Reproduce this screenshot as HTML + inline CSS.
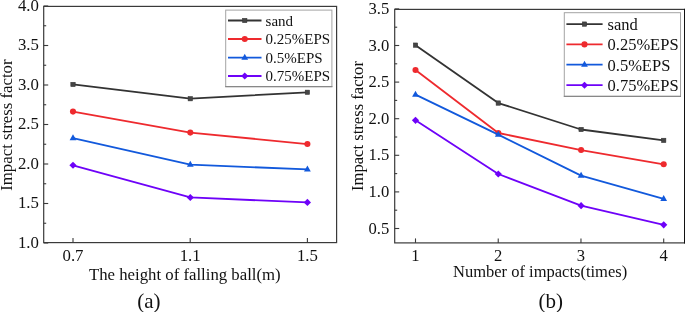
<!DOCTYPE html>
<html><head><meta charset="utf-8"><style>
html,body{margin:0;padding:0;background:#fff;}
svg{display:block;will-change:transform;}
text{font-family:"Liberation Serif",serif;fill:#111;}
</style></head><body>
<svg width="685" height="312" viewBox="0 0 685 312">
<rect width="685" height="312" fill="#fff"/>
<polyline points="73.00,84.45 190.30,98.70 307.40,92.30" fill="none" stroke="#333333" stroke-width="1.8" stroke-linejoin="round"/>
<rect x="70.80" y="82.25" width="4.40" height="4.40" fill="#454545" stroke="#333333" stroke-width="0.5"/>
<rect x="188.10" y="96.50" width="4.40" height="4.40" fill="#454545" stroke="#333333" stroke-width="0.5"/>
<rect x="305.20" y="90.10" width="4.40" height="4.40" fill="#454545" stroke="#333333" stroke-width="0.5"/>
<polyline points="73.00,111.60 190.30,132.60 307.40,144.05" fill="none" stroke="#ee2a2e" stroke-width="1.8" stroke-linejoin="round"/>
<circle cx="73.00" cy="111.60"  r="3.05" fill="#ee2a2e"/>
<circle cx="190.30" cy="132.60"  r="3.05" fill="#ee2a2e"/>
<circle cx="307.40" cy="144.05"  r="3.05" fill="#ee2a2e"/>
<polyline points="73.00,138.20 190.30,164.70 307.40,169.40" fill="none" stroke="#1259dc" stroke-width="1.8" stroke-linejoin="round"/>
<path d="M73.00,134.30 L76.40,140.30 L69.60,140.30Z" fill="#1259dc"/>
<path d="M190.30,160.80 L193.70,166.80 L186.90,166.80Z" fill="#1259dc"/>
<path d="M307.40,165.50 L310.80,171.50 L304.00,171.50Z" fill="#1259dc"/>
<polyline points="73.00,165.30 190.30,197.45 307.40,202.40" fill="none" stroke="#6e02f8" stroke-width="1.8" stroke-linejoin="round"/>
<path d="M73.00,161.75 L76.60,165.30 L73.00,168.85 L69.40,165.30Z" fill="#6e02f8"/>
<path d="M190.30,193.90 L193.90,197.45 L190.30,201.00 L186.70,197.45Z" fill="#6e02f8"/>
<path d="M307.40,198.85 L311.00,202.40 L307.40,205.95 L303.80,202.40Z" fill="#6e02f8"/>
<rect x="43.7" y="6.4" width="292.90" height="236.20" fill="none" stroke="#3a3a3a" stroke-width="1.2"/>
<line x1="43.7" y1="243.00" x2="48.2" y2="243.00" stroke="#3a3a3a" stroke-width="1.1"/>
<text x="38.90" y="247.60" text-anchor="end" font-size="16.8">1.0</text>
<line x1="43.7" y1="223.25" x2="46.2" y2="223.25" stroke="#3a3a3a" stroke-width="1.1"/>
<line x1="43.7" y1="203.50" x2="48.2" y2="203.50" stroke="#3a3a3a" stroke-width="1.1"/>
<text x="38.90" y="208.10" text-anchor="end" font-size="16.8">1.5</text>
<line x1="43.7" y1="183.75" x2="46.2" y2="183.75" stroke="#3a3a3a" stroke-width="1.1"/>
<line x1="43.7" y1="164.00" x2="48.2" y2="164.00" stroke="#3a3a3a" stroke-width="1.1"/>
<text x="38.90" y="168.60" text-anchor="end" font-size="16.8">2.0</text>
<line x1="43.7" y1="144.25" x2="46.2" y2="144.25" stroke="#3a3a3a" stroke-width="1.1"/>
<line x1="43.7" y1="124.50" x2="48.2" y2="124.50" stroke="#3a3a3a" stroke-width="1.1"/>
<text x="38.90" y="129.10" text-anchor="end" font-size="16.8">2.5</text>
<line x1="43.7" y1="104.75" x2="46.2" y2="104.75" stroke="#3a3a3a" stroke-width="1.1"/>
<line x1="43.7" y1="85.00" x2="48.2" y2="85.00" stroke="#3a3a3a" stroke-width="1.1"/>
<text x="38.90" y="89.60" text-anchor="end" font-size="16.8">3.0</text>
<line x1="43.7" y1="65.25" x2="46.2" y2="65.25" stroke="#3a3a3a" stroke-width="1.1"/>
<line x1="43.7" y1="45.50" x2="48.2" y2="45.50" stroke="#3a3a3a" stroke-width="1.1"/>
<text x="38.90" y="50.10" text-anchor="end" font-size="16.8">3.5</text>
<line x1="43.7" y1="25.75" x2="46.2" y2="25.75" stroke="#3a3a3a" stroke-width="1.1"/>
<line x1="43.7" y1="6.00" x2="48.2" y2="6.00" stroke="#3a3a3a" stroke-width="1.1"/>
<text x="38.90" y="10.60" text-anchor="end" font-size="16.8">4.0</text>
<line x1="73.00" y1="242.6" x2="73.00" y2="238.1" stroke="#3a3a3a" stroke-width="1.1"/>
<text x="73.00" y="261.00" text-anchor="middle" font-size="16.8">0.7</text>
<line x1="190.20" y1="242.6" x2="190.20" y2="238.1" stroke="#3a3a3a" stroke-width="1.1"/>
<text x="190.20" y="261.00" text-anchor="middle" font-size="16.8">1.1</text>
<line x1="307.40" y1="242.6" x2="307.40" y2="238.1" stroke="#3a3a3a" stroke-width="1.1"/>
<text x="307.40" y="261.00" text-anchor="middle" font-size="16.8">1.5</text>
<rect x="225.7" y="10.1" width="106.2" height="76.5" fill="#fff" stroke="#a4a4a4" stroke-width="1"/>
<line x1="225.2" y1="86.6" x2="332.4" y2="86.6" stroke="#888" stroke-width="1.1"/>
<line x1="228" y1="20.5" x2="261.5" y2="20.5" stroke="#333333" stroke-width="1.8"/>
<rect x="242.55" y="18.30" width="4.40" height="4.40" fill="#454545" stroke="#333333" stroke-width="0.5"/>
<text x="265.6" y="25.80" font-size="15">sand</text>
<line x1="228" y1="39" x2="261.5" y2="39" stroke="#ee2a2e" stroke-width="1.8"/>
<circle cx="244.75" cy="39.00"  r="3.05" fill="#ee2a2e"/>
<text x="265.6" y="44.30" font-size="15">0.25%EPS</text>
<line x1="228" y1="57.6" x2="261.5" y2="57.6" stroke="#1259dc" stroke-width="1.8"/>
<path d="M244.75,53.70 L248.15,59.70 L241.35,59.70Z" fill="#1259dc"/>
<text x="265.6" y="62.90" font-size="15">0.5%EPS</text>
<line x1="228" y1="76.0" x2="261.5" y2="76.0" stroke="#6e02f8" stroke-width="1.8"/>
<path d="M244.75,72.45 L248.35,76.00 L244.75,79.55 L241.15,76.00Z" fill="#6e02f8"/>
<text x="265.6" y="81.30" font-size="15">0.75%EPS</text>
<polyline points="415.50,45.15 498.30,103.05 581.10,129.50 663.70,140.40" fill="none" stroke="#333333" stroke-width="1.8" stroke-linejoin="round"/>
<rect x="413.30" y="42.95" width="4.40" height="4.40" fill="#454545" stroke="#333333" stroke-width="0.5"/>
<rect x="496.10" y="100.85" width="4.40" height="4.40" fill="#454545" stroke="#333333" stroke-width="0.5"/>
<rect x="578.90" y="127.30" width="4.40" height="4.40" fill="#454545" stroke="#333333" stroke-width="0.5"/>
<rect x="661.50" y="138.20" width="4.40" height="4.40" fill="#454545" stroke="#333333" stroke-width="0.5"/>
<polyline points="415.50,70.00 498.30,133.00 581.10,150.05 663.70,164.30" fill="none" stroke="#ee2a2e" stroke-width="1.8" stroke-linejoin="round"/>
<circle cx="415.50" cy="70.00"  r="3.05" fill="#ee2a2e"/>
<circle cx="498.30" cy="133.00"  r="3.05" fill="#ee2a2e"/>
<circle cx="581.10" cy="150.05"  r="3.05" fill="#ee2a2e"/>
<circle cx="663.70" cy="164.30"  r="3.05" fill="#ee2a2e"/>
<polyline points="415.50,94.60 498.30,134.65 581.10,175.65 663.70,198.85" fill="none" stroke="#1259dc" stroke-width="1.8" stroke-linejoin="round"/>
<path d="M415.50,90.70 L418.90,96.70 L412.10,96.70Z" fill="#1259dc"/>
<path d="M498.30,130.75 L501.70,136.75 L494.90,136.75Z" fill="#1259dc"/>
<path d="M581.10,171.75 L584.50,177.75 L577.70,177.75Z" fill="#1259dc"/>
<path d="M663.70,194.95 L667.10,200.95 L660.30,200.95Z" fill="#1259dc"/>
<polyline points="415.50,120.35 498.30,174.00 581.10,205.65 663.70,224.85" fill="none" stroke="#6e02f8" stroke-width="1.8" stroke-linejoin="round"/>
<path d="M415.50,116.80 L419.10,120.35 L415.50,123.90 L411.90,120.35Z" fill="#6e02f8"/>
<path d="M498.30,170.45 L501.90,174.00 L498.30,177.55 L494.70,174.00Z" fill="#6e02f8"/>
<path d="M581.10,202.10 L584.70,205.65 L581.10,209.20 L577.50,205.65Z" fill="#6e02f8"/>
<path d="M663.70,221.30 L667.30,224.85 L663.70,228.40 L660.10,224.85Z" fill="#6e02f8"/>
<rect x="394.7" y="9.4" width="289.90" height="233.50" fill="none" stroke="#3a3a3a" stroke-width="1.2"/>
<line x1="394.7" y1="228.50" x2="399.2" y2="228.50" stroke="#3a3a3a" stroke-width="1.1"/>
<text x="389.20" y="233.50" text-anchor="end" font-size="16.6">0.5</text>
<line x1="394.7" y1="210.20" x2="397.2" y2="210.20" stroke="#3a3a3a" stroke-width="1.1"/>
<line x1="394.7" y1="191.90" x2="399.2" y2="191.90" stroke="#3a3a3a" stroke-width="1.1"/>
<text x="389.20" y="196.90" text-anchor="end" font-size="16.6">1.0</text>
<line x1="394.7" y1="173.60" x2="397.2" y2="173.60" stroke="#3a3a3a" stroke-width="1.1"/>
<line x1="394.7" y1="155.30" x2="399.2" y2="155.30" stroke="#3a3a3a" stroke-width="1.1"/>
<text x="389.20" y="160.30" text-anchor="end" font-size="16.6">1.5</text>
<line x1="394.7" y1="137.00" x2="397.2" y2="137.00" stroke="#3a3a3a" stroke-width="1.1"/>
<line x1="394.7" y1="118.70" x2="399.2" y2="118.70" stroke="#3a3a3a" stroke-width="1.1"/>
<text x="389.20" y="123.70" text-anchor="end" font-size="16.6">2.0</text>
<line x1="394.7" y1="100.40" x2="397.2" y2="100.40" stroke="#3a3a3a" stroke-width="1.1"/>
<line x1="394.7" y1="82.10" x2="399.2" y2="82.10" stroke="#3a3a3a" stroke-width="1.1"/>
<text x="389.20" y="87.10" text-anchor="end" font-size="16.6">2.5</text>
<line x1="394.7" y1="63.80" x2="397.2" y2="63.80" stroke="#3a3a3a" stroke-width="1.1"/>
<line x1="394.7" y1="45.50" x2="399.2" y2="45.50" stroke="#3a3a3a" stroke-width="1.1"/>
<text x="389.20" y="50.50" text-anchor="end" font-size="16.6">3.0</text>
<line x1="394.7" y1="27.20" x2="397.2" y2="27.20" stroke="#3a3a3a" stroke-width="1.1"/>
<line x1="394.7" y1="8.90" x2="399.2" y2="8.90" stroke="#3a3a3a" stroke-width="1.1"/>
<text x="389.20" y="13.90" text-anchor="end" font-size="16.6">3.5</text>
<line x1="415.50" y1="242.9" x2="415.50" y2="238.4" stroke="#3a3a3a" stroke-width="1.1"/>
<text x="415.50" y="260.60" text-anchor="middle" font-size="16.6">1</text>
<line x1="498.23" y1="242.9" x2="498.23" y2="238.4" stroke="#3a3a3a" stroke-width="1.1"/>
<text x="498.23" y="260.60" text-anchor="middle" font-size="16.6">2</text>
<line x1="580.97" y1="242.9" x2="580.97" y2="238.4" stroke="#3a3a3a" stroke-width="1.1"/>
<text x="580.97" y="260.60" text-anchor="middle" font-size="16.6">3</text>
<line x1="663.70" y1="242.9" x2="663.70" y2="238.4" stroke="#3a3a3a" stroke-width="1.1"/>
<text x="663.70" y="260.60" text-anchor="middle" font-size="16.6">4</text>
<line x1="684.5" y1="8.8" x2="684.5" y2="243.5" stroke="#111" stroke-width="1"/>
<rect x="564.3" y="12.7" width="116.2" height="83.7" fill="#fff" stroke="#a4a4a4" stroke-width="1"/>
<line x1="563.8" y1="96.4" x2="681.0" y2="96.4" stroke="#888" stroke-width="1.1"/>
<line x1="566.4" y1="24.1" x2="602.6" y2="24.1" stroke="#333333" stroke-width="1.8"/>
<rect x="582.30" y="21.90" width="4.40" height="4.40" fill="#454545" stroke="#333333" stroke-width="0.5"/>
<text x="607.5" y="29.93" font-size="16.5">sand</text>
<line x1="566.4" y1="44.4" x2="602.6" y2="44.4" stroke="#ee2a2e" stroke-width="1.8"/>
<circle cx="584.50" cy="44.40"  r="3.05" fill="#ee2a2e"/>
<text x="607.5" y="50.23" font-size="16.5">0.25%EPS</text>
<line x1="566.4" y1="64.7" x2="602.6" y2="64.7" stroke="#1259dc" stroke-width="1.8"/>
<path d="M584.50,60.80 L587.90,66.80 L581.10,66.80Z" fill="#1259dc"/>
<text x="607.5" y="70.53" font-size="16.5">0.5%EPS</text>
<line x1="566.4" y1="85.2" x2="602.6" y2="85.2" stroke="#6e02f8" stroke-width="1.8"/>
<path d="M584.50,81.65 L588.10,85.20 L584.50,88.75 L580.90,85.20Z" fill="#6e02f8"/>
<text x="607.5" y="91.03" font-size="16.5">0.75%EPS</text>
<text x="89" y="279.7" font-size="16.75">The height of falling ball(m)</text>
<text x="453" y="277.1" font-size="16.5">Number of impacts(times)</text>
<text transform="translate(12,190.8) rotate(-90)" font-size="16.8">Impact stress factor</text>
<text transform="translate(363.2,191.0) rotate(-90)" font-size="16.6">Impact stress factor</text>
<text x="137.3" y="307.5" font-size="21">(a)</text>
<text x="538.4" y="308" font-size="21">(b)</text>
</svg>
</body></html>
